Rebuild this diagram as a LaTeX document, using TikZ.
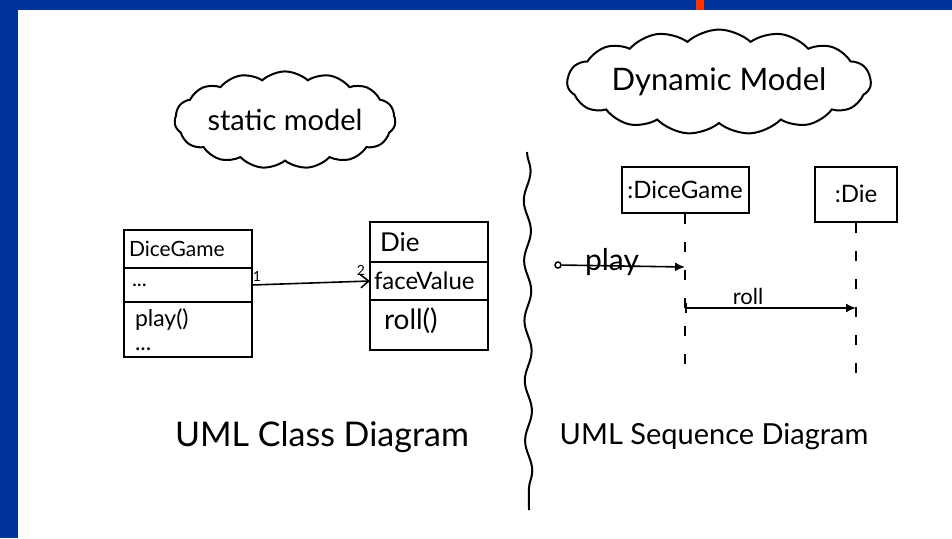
\documentclass[tikz,border=0pt]{standalone}
\usepackage{fontspec}
\setmainfont{Lato}
\usetikzlibrary{shapes.symbols,arrows.meta,decorations.pathmorphing}
\definecolor{slideblue}{HTML}{00339A}
\definecolor{slideorange}{HTML}{FF3300}
\begin{document}
\begin{tikzpicture}[x=1pt,y=-1pt,
  ink/.style={line width=2pt, draw=black},
  cls/.style={ink, rectangle, inner sep=5pt, outer sep=0pt, align=left, font=\fontsize{21}{24}\selectfont, anchor=north},
  dgcls/.style={cls, minimum width=128pt, text width=118pt},
  diecls/.style={cls, minimum width=118pt, text width=110pt, inner sep=4pt},
  obj/.style={ink, rectangle, inner sep=3pt, font=\fontsize{24}{26}\selectfont},
  lifeline/.style={line width=1.6pt, dash pattern=on 10pt off 18pt},
  msg/.style={line width=1.6pt, -{Latex[length=10pt,width=9pt]}},
  sketchcloud/.style={ink, cloud, cloud puffs=15, cloud puff arc=85, inner sep=0pt},
  small/.style={font=\fontsize{14}{16}\selectfont}
]
\useasboundingbox (0,0) rectangle (952,538);
% slide background
\fill[slideblue] (0,0) rectangle (952,538);
\fill[white] (18,10) rectangle (952,538);
\fill[slideorange] (696,0) rectangle (704,10);

% clouds
\node[sketchcloud, aspect=2.7, minimum width=218pt, minimum height=80pt, font=\fontsize{29}{30}\selectfont] (static) at (285,120) {static model};
\node[sketchcloud, aspect=3.7, minimum width=286pt, minimum height=76pt, font=\fontsize{31}{32}\selectfont] (dynamic) at (719,82) {Dynamic Model};

% class diagram
\node[dgcls, minimum height=38pt] (dgname) at (188,230) {DiceGame};
\node[dgcls, minimum height=34pt] (dgattr) at (dgname.south) {\hspace*{3pt}...};
\node[dgcls, minimum height=55pt, font=\fontsize{23}{24}\selectfont] (dgops) at (dgattr.south) {\hspace*{6pt}play()\\\hspace*{6pt}...};

\node[diecls, minimum height=40pt, font=\fontsize{26}{28}\selectfont] (diename) at (429,222) {\hspace*{6pt}Die};
\node[diecls, minimum height=38pt, font=\fontsize{24}{26}\selectfont] (dieattr) at (diename.south) {faceValue};
\node[diecls, minimum height=50pt, font=\fontsize{28}{28}\selectfont, text depth=12pt] (dieops) at (dieattr.south) {\hspace*{10pt}roll()};

\draw[line width=1.6pt, -{Straight Barb[length=8pt,width=13pt]}] (dgattr.east) -- (dieattr.west);
\node[small] (m1) at (257,276) {1};
\node[small] (m2) at (361,270) {2};

% divider
\draw[ink, decorate, decoration={snake, amplitude=3.5pt, segment length=60pt}] (527,152) -- (529,510);

% sequence diagram
\node[obj, minimum width=127pt, minimum height=46pt] (sdg) at (685,190) {:DiceGame};
\node[obj, minimum width=82pt, minimum height=55pt] (sdie) at (856,194) {:Die};

\coordinate (dgL) at (sdg.south |- 0,376);
\coordinate (dieL) at (sdie.south |- 0,376);
\draw[lifeline] (sdg.south) -- (dgL);
\draw[lifeline] (sdie.south) -- (dieL);

\node[circle, draw, line width=1.5pt, inner sep=0pt, minimum size=6pt] (start) at (558,265) {};
\coordinate (playend) at (sdg.south |- 0,267);
\draw[msg] (start) -- (playend);
\node[font=\fontsize{30}{32}\selectfont] (playlbl) at (612,262) {play};

\coordinate (rollstart) at (sdg.south |- 0,308);
\coordinate (rollend) at (sdie.south |- 0,308);
\draw[msg, {Bar[width=10pt]}-{Latex[length=10pt,width=9pt]}] (rollstart) -- (rollend);
\node[font=\fontsize{22}{24}\selectfont] (rolllbl) at (748,296) {roll};

% titles
\node[font=\fontsize{34}{36}\selectfont] (cdtitle) at (322,437) {UML Class Diagram};
\node[font=\fontsize{29}{32}\selectfont] (sdtitle) at (714,437) {UML Sequence Diagram};
\end{tikzpicture}
\end{document}
